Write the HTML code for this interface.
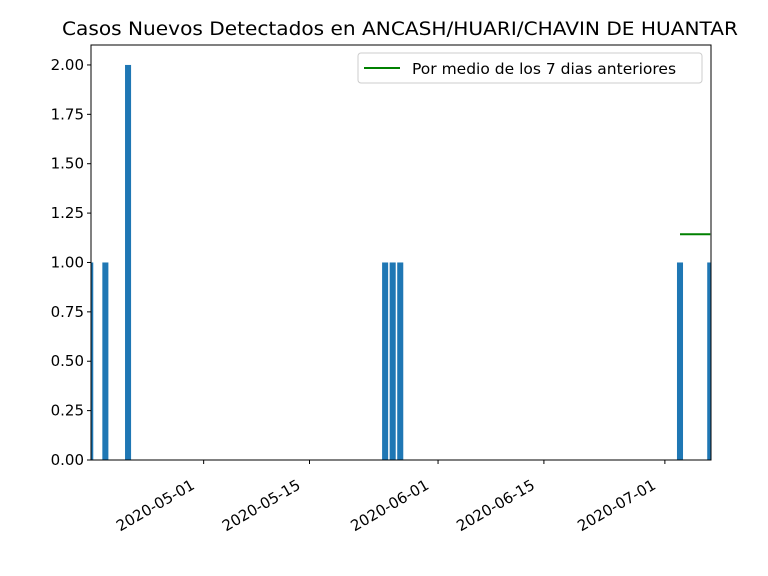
<!DOCTYPE html>
<html><head><meta charset="utf-8"><style>
body{margin:0;background:#fff;}
svg{display:block;font-family:"DejaVu Sans","Liberation Sans",sans-serif;}
</style></head><body>
<svg id="chart" width="768" height="576" viewBox="0 0 768 576">
<rect width="768" height="576" fill="#fff"/>
<text x="400" y="35" font-size="19" text-anchor="middle" textLength="676" lengthAdjust="spacingAndGlyphs" fill="#000">Casos Nuevos Detectados en ANCASH/HUARI/CHAVIN DE HUANTAR</text>
<g id="bars"></g><g id="line"></g><g id="yaxis"></g><g id="xaxis"></g>
<rect x="91" y="45" width="620" height="415" fill="none" stroke="#000" stroke-width="1"/>
<g>
<rect x="358" y="53" width="344" height="30" rx="3" fill="#fff" stroke="#ccc"/>
<line x1="364" y1="68" x2="400" y2="68" stroke="#008000" stroke-width="2"/>
<text x="412" y="74" font-size="15.5" fill="#000">Por medio de los 7 dias anteriores</text>
</g>
</svg>
<script>
const barDays=["2020-04-16","2020-04-18","2020-04-21","2020-05-25","2020-05-26","2020-05-27","2020-07-03","2020-07-07"];
const barValues=[1,1,2,1,1,1,1,1];
const avgDays=["2020-07-03","2020-07-07"];
const avgValues=[1.142857,1.142857];
const yTicks=[0,0.25,0.5,0.75,1,1.25,1.5,1.75,2];
const xTicks=["2020-05-01","2020-05-15","2020-06-01","2020-06-15","2020-07-01"];
const NS="http://www.w3.org/2000/svg";
const L=91,R=711,T=45,B=460;
const d0=Date.parse("2020-05-01");
const dd=s=>(Date.parse(s)-d0)/864e5;
const xmin=-14.9,xmax=67.1,ymax=2.101;
const X=s=>L+(dd(s)-xmin)/(xmax-xmin)*(R-L);
const Y=v=>B-v/ymax*(B-T);
function mk(t,a,p){const e=document.createElementNS(NS,t);for(const k in a)e.setAttribute(k,a[k]);p.appendChild(e);return e;}
const cp=mk("clipPath",{id:"cp"},document.getElementById("chart"));
mk("rect",{x:L,y:T,width:R-L,height:B-T},cp);
const bw=0.8*(R-L)/(xmax-xmin);
const gb=document.getElementById("bars");gb.setAttribute("clip-path","url(#cp)");
barDays.forEach((d,i)=>{const r=mk("rect",{x:X(d)-bw/2,y:Y(barValues[i]),width:bw,height:B-Y(barValues[i]),fill:"#1f77b4"},gb);

});
const gl=document.getElementById("line");gl.setAttribute("clip-path","url(#cp)");
const pl=mk("polyline",{points:avgDays.map((d,i)=>X(d)+","+Y(avgValues[i])).join(" "),fill:"none",stroke:"#008000","stroke-width":2},gl);


const gy=document.getElementById("yaxis");
yTicks.forEach(v=>{mk("line",{x1:L-4,x2:L,y1:Y(v),y2:Y(v),stroke:"#000"},gy);
const t=mk("text",{x:L-7,y:Y(v)+5,"font-size":15,"text-anchor":"end"},gy);t.textContent=v.toFixed(2);

});
const gx=document.getElementById("xaxis");
xTicks.forEach(s=>{const x=X(s);mk("line",{x1:x,x2:x,y1:B,y2:B+4,stroke:"#000"},gx);
const t=mk("text",{x:x-8,y:B+28,"font-size":15,"text-anchor":"end",transform:`rotate(-30 ${x-8} ${B+28})`},gx);t.textContent=s;

});
</script>
</body></html>
